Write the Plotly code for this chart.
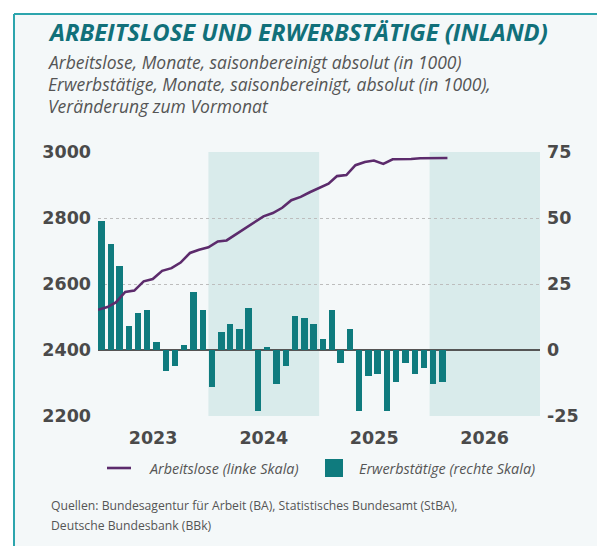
import pandas as pd
import plotly.graph_objects as go

# ---------------- data ----------------
years = ["2023", "2024", "2025", "2026"]

# Arbeitslose (linke Skala), Jan 2023 - Mar 2026, in 1000
arbeitslose = [2522, 2530, 2544, 2576, 2580, 2608, 2615, 2640, 2648, 2665, 2694, 2704,
               2711, 2729, 2732, 2750, 2767, 2785, 2805, 2815, 2831, 2854, 2864, 2878,
               2891, 2904, 2927, 2930, 2960, 2970, 2974, 2964, 2978, 2978, 2979, 2981,
               2982, 2982, 2982]

# Erwerbstätige (rechte Skala), Veränderung zum Vormonat, Jan 2023 - Feb 2026, in 1000
erwerbstaetige = [49, 40, 32, 9, 14, 15, 3, -8, -6, 2, 22, 15,
                  -14, 7, 10, 8, 16, -23, 1, -13, -6, 13, 12, 10,
                  4, 15, -5, 8, -23, -10, -9, -23, -12, -5, -9, -7,
                  -13, -12]

left_ticks = [2200, 2400, 2600, 2800, 3000]
right_ticks = [-25, 0, 25, 50, 75]
right_tick_text = ["-25", "0", "25", "50", "75"]

line_months = pd.date_range("2023-01-01", periods=len(arbeitslose), freq="MS")
bar_months = pd.date_range("2023-01-01", periods=len(erwerbstaetige), freq="MS") + pd.Timedelta(days=12)

# ---------------- layout helpers ----------------
OFF = 8  # page body margin
PAGE_W, PAGE_H = 605, 546
W, H = PAGE_W - OFF, PAGE_H - OFF
L, R, T, B = 98 - OFF, 540 - OFF, 152 - OFF, 416 - OFF


def px_x(px):  # px in page coordinates
    return (px - OFF - L) / (R - L)


def px_y(py):
    return (B - (py - OFF)) / (B - T)


TEAL = "#0f7b7e"
PURPLE = "#5c2b6c"
TITLE = "#11707a"
GREY = "#555555"
TICK = "#4a4a4a"
BG = "#f4f8f9"
BAND = "#d9ebeb"
FRAME = "#2ca5ad"

fig = go.Figure()

fig.add_trace(go.Bar(
    x=bar_months, y=erwerbstaetige, yaxis="y",
    marker=dict(color=TEAL, line=dict(width=0)),
    width=21 * 24 * 3600 * 1000,
    name="Erwerbstätige (rechte Skala)", showlegend=False,
))
fig.add_trace(go.Scatter(
    x=line_months, y=arbeitslose, yaxis="y2", mode="lines",
    line=dict(color=PURPLE, width=2.6),
    name="Arbeitslose (linke Skala)", showlegend=False,
))

shapes = []
# outer white strips + frame
shapes.append(dict(type="rect", xref="paper", yref="paper", x0=px_x(0), x1=px_x(PAGE_W + 20), y0=px_y(0), y1=px_y(14),
                   fillcolor="white", line=dict(width=0), layer="below"))
shapes.append(dict(type="rect", xref="paper", yref="paper", x0=px_x(0), x1=px_x(14), y0=px_y(0), y1=px_y(PAGE_H + 20),
                   fillcolor="white", line=dict(width=0), layer="below"))
shapes.append(dict(type="line", xref="paper", yref="paper", x0=px_x(14), x1=px_x(PAGE_W + 20), y0=px_y(14), y1=px_y(14),
                   line=dict(color=FRAME, width=2), layer="below"))
shapes.append(dict(type="line", xref="paper", yref="paper", x0=px_x(14), x1=px_x(14), y0=px_y(14), y1=px_y(PAGE_H + 20),
                   line=dict(color=FRAME, width=2), layer="below"))
# shaded years
for y0, y1 in [("2024-01-01", "2025-01-01"), ("2026-01-01", "2027-01-01")]:
    shapes.append(dict(type="rect", xref="x", yref="paper", x0=y0, x1=y1, y0=0, y1=1,
                       fillcolor=BAND, line=dict(width=0), layer="below"))
# legend symbols
shapes.append(dict(type="line", xref="paper", yref="paper", x0=px_x(107), x1=px_x(131), y0=px_y(468), y1=px_y(468),
                   line=dict(color=PURPLE, width=2.6)))
shapes.append(dict(type="rect", xref="paper", yref="paper", x0=px_x(325), x1=px_x(343), y0=px_y(459), y1=px_y(477),
                   fillcolor=TEAL, line=dict(width=0)))

annotations = []
annotations.append(dict(xref="paper", yref="paper", x=px_x(46), y=px_y(32), xanchor="left", yanchor="middle",
                        text="<b><i>ARBEITSLOSE UND ERWERBSTÄTIGE (INLAND)</i></b>", showarrow=False,
                        font=dict(family="Open Sans", size=23.8, color=TITLE)))
subs = ["Arbeitslose, Monate, saisonbereinigt absolut (in 1000)",
        "Erwerbstätige, Monate, saisonbereinigt, absolut (in 1000),",
        "Veränderung zum Vormonat"]
for i, s in enumerate(subs):
    annotations.append(dict(xref="paper", yref="paper", x=px_x(46), y=px_y(62 + 22 * i), xanchor="left",
                            yanchor="middle", text="<i>" + s + "</i>", showarrow=False,
                            font=dict(family="Open Sans", size=17.5, color=GREY)))
foot = ["Quellen: Bundesagentur für Arbeit (BA), Statistisches Bundesamt (StBA),",
        "Deutsche Bundesbank (BBk)"]
for i, s in enumerate(foot):
    annotations.append(dict(xref="paper", yref="paper", x=px_x(49), y=px_y(505 + 20 * i), xanchor="left",
                            yanchor="middle", text=s, showarrow=False,
                            font=dict(family="Open Sans", size=12.2, color=GREY)))
# legend texts
for xpos, s in [(147, "Arbeitslose (linke Skala)"), (357, "Erwerbstätige (rechte Skala)")]:
    annotations.append(dict(xref="paper", yref="paper", x=px_x(xpos), y=px_y(468), xanchor="left",
                            yanchor="middle", text="<i>" + s + "</i>", showarrow=False,
                            font=dict(family="Open Sans", size=14.4, color=GREY)))

tickfont = dict(family="DejaVu Sans", size=17.5, color=TICK, weight="bold")

fig.update_layout(
    width=W, height=H,
    margin=dict(l=L, r=W - R, t=T, b=H - B, pad=0),
    paper_bgcolor=BG, plot_bgcolor=BG,
    showlegend=False,
    bargap=0,
    xaxis=dict(type="date", range=["2023-01-01", "2027-01-01"], showgrid=False, zeroline=False,
               showline=False, ticks="", ticklabelstandoff=9,
               tickvals=[y + "-07-02" for y in years], ticktext=years,
               tickfont=tickfont),
    yaxis=dict(side="right", range=[-25, 75], tickvals=right_ticks, ticktext=right_tick_text,
               showgrid=True, gridcolor="#bdbdbd", griddash="dot", gridwidth=1,
               zeroline=True, zerolinecolor="#555555", zerolinewidth=1.5,
               showline=False, ticks="", ticklabelstandoff=6,
               tickfont=tickfont),
    yaxis2=dict(side="left", overlaying="y", range=[2200, 3000], tickvals=left_ticks,
                showgrid=False, zeroline=False, showline=False, ticks="", ticklabelstandoff=6,
                tickfont=tickfont),
    shapes=shapes, annotations=annotations,
)

fig.write_html("out.html")
